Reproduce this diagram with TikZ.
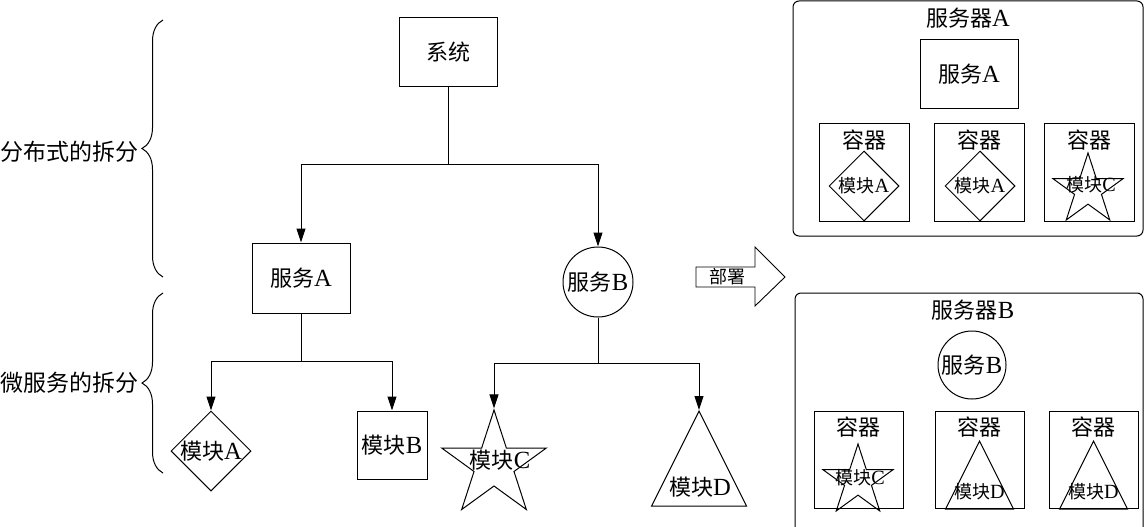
\documentclass[tikz,border=0pt]{standalone}
\usepackage{fontspec}
\setmainfont{Liberation Serif}[Scale=1.12]
\newfontfamily\cjk{Noto Sans CJK SC}
\usetikzlibrary{arrows.meta,shapes.geometric,decorations.pathreplacing}
\newcommand\zh[1]{{\cjk #1}}
\begin{document}
\begin{tikzpicture}[x=1pt,y=-1pt,line width=1pt,
  every node/.style={font=\fontsize{22}{24}\selectfont,inner sep=0pt},
  small/.style={font=\fontsize{18}{20}\selectfont},
  side/.style={font=\fontsize{23}{25}\selectfont,anchor=east},
  box/.style={draw,rectangle},
  arr/.style={-{Triangle[length=14pt,width=9pt]}},
  dia/.style={draw,diamond},
  starshape/.style={draw,star,star points=5,star point ratio=2.618},
  tri/.style={draw,isosceles triangle,isosceles triangle apex angle=53.13,shape border rotate=90,anchor=apex},
  bracestyle/.style={decorate,decoration={brace,amplitude=21pt}},
]
\useasboundingbox (0,0) rectangle (1145,527);

% braces and labels
\draw[bracestyle] (163,277) -- (163,20);
\draw[bracestyle] (163,473) -- (163,293);
\node[side] (l1) at (139,152) {\zh{分布式的拆分}};
\node[side] (l2) at (139,383) {\zh{微服务的拆分}};

% main tree
\node[box,minimum width=98,minimum height=69] (sys) at (448,52) {\zh{系统}};
\node[box,minimum width=98,minimum height=70] (sa) at (301,278) {\zh{服务}A};
\node[draw,circle,minimum size=70] (sb) at (598,282) {\zh{服务}B};
\node[dia,minimum width=80,minimum height=80,label={center:{\zh{模块}A}}] (ma) at (211,451) {};
\node[box,minimum width=70,minimum height=68] (mb) at (392,445) {\zh{模块}B};
\node[starshape,minimum size=110] (mc) at (494,465) {};
\node (mct) at (500,460) {\zh{模块}C};
\node[tri,minimum width=95,minimum height=95] (md) at (699,410) {};
\node (mdt) at (700,487) {\zh{模块}D};

\coordinate (j1) at (448,164);
\coordinate (j2) at (301,361);
\coordinate (j3) at (598,363);
\draw (sys.south) -- (j1);
\draw[arr] (j1) -| (sa.north);
\draw[arr] (j1) -| (sb.north);
\draw (sa.south) -- (j2);
\draw[arr] (j2) -| (ma.north);
\draw[arr] (j2) -| (mb.north);
\draw (sb.south) -- (j3);
\draw[arr] (j3) -| (mc.outer point 1);
\draw[arr] (j3) -| (md.apex);

% deploy arrow
\draw[line width=0.9pt] (696,267) -- (755,267) -- (755,247) -- (785,277) -- (755,306) -- (755,287) -- (696,287) -- cycle;
\node[small] (dep) at (727,277) {\zh{部署}};

% server A
\draw[rounded corners=6pt] (793,1) rectangle (1143,236);
\node (srvA) at (968,18) {\zh{服务器}A};
\node[box,minimum width=98,minimum height=68] (psa) at (969,74) {\zh{服务}A};
\node[box,minimum width=90,minimum height=98] (ca1) at (864,172) {};
\node[box,minimum width=90,minimum height=98] (ca2) at (979,172) {};
\node[box,minimum width=90,minimum height=98] (ca3) at (1089,172) {};
\node (ca1t) at (864,140) {\zh{容器}};
\node (ca2t) at (979,140) {\zh{容器}};
\node (ca3t) at (1089,140) {\zh{容器}};
\node[dia,minimum width=70,minimum height=70,label={[small]center:{\zh{模块}A}}] (da1) at (864,186) {};
\node[dia,minimum width=70,minimum height=70,label={[small]center:{\zh{模块}A}}] (da2) at (980,186) {};
\node[starshape,minimum size=74] (sa3) at (1088,190) {};
\node[small] (sa3t) at (1091,185) {\zh{模块}C};

% server B
\draw[rounded corners=6pt] (795,527) -- (795,293) -- (1143,293) -- (1143,527);
\node (srvB) at (973,310) {\zh{服务器}B};
\node[draw,circle,minimum size=68] (psb) at (972,365) {\zh{服务}B};
\node[box,minimum width=89,minimum height=97] (cb1) at (858.5,459.5) {};
\node[box,minimum width=89,minimum height=97] (cb2) at (979.5,459.5) {};
\node[box,minimum width=89,minimum height=97] (cb3) at (1093.5,459.5) {};
\node (cb1t) at (858.5,427) {\zh{容器}};
\node (cb2t) at (979.5,427) {\zh{容器}};
\node (cb3t) at (1093.5,427) {\zh{容器}};
\node[starshape,minimum size=74] (sb1) at (858,481) {};
\node[small] (sb1t) at (860,478) {\zh{模块}C};
\node[tri,minimum width=68,minimum height=68] (tb2) at (979.5,440) {};
\node[small] (tb2t) at (979.5,492) {\zh{模块}D};
\node[tri,minimum width=68,minimum height=68] (tb3) at (1093.5,440) {};
\node[small] (tb3t) at (1093.5,492) {\zh{模块}D};
\end{tikzpicture}
\end{document}
